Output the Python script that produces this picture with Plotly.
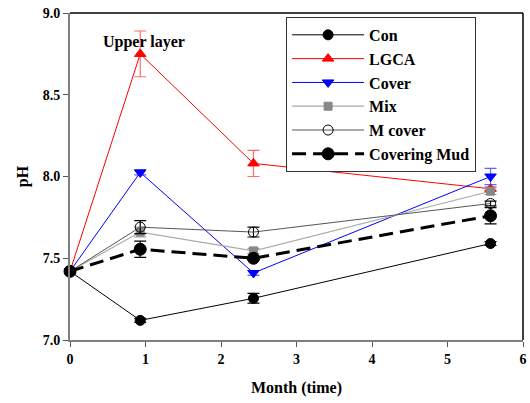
import plotly.graph_objects as go

months = [0, 0.93, 2.43, 5.57]
series_names = ["Con", "LGCA", "Cover", "Mix", "M cover", "Covering Mud"]
con = [7.42, 7.12, 7.255, 7.59]
con_err = [0, 0.012, 0.03, 0.012]
lgca = [7.42, 8.75, 8.08, 7.925]
lgca_err = [0, 0.14, 0.08, 0.012]
cover = [7.42, 8.025, 7.41, 8.0]
cover_err = [0, 0.015, 0.015, 0.05]
mix = [7.42, 7.66, 7.545, 7.91]
mix_err = [0, 0.03, 0.015, 0.02]
mcover = [7.42, 7.69, 7.66, 7.835]
mcover_err = [0, 0.04, 0.03, 0.015]
mud = [7.42, 7.555, 7.5, 7.76]
mud_err = [0, 0.05, 0.01, 0.05]

x_ticks = [0, 1, 2, 3, 4, 5, 6]
y_ticks = [7.0, 7.5, 8.0, 8.5, 9.0]

FONT = "Times New Roman"

styles = [
    dict(y=con, e=con_err, color="black", ecolor="black", symbol="circle", size=10, lw=1, dash="solid"),
    dict(y=lgca, e=lgca_err, color="red", ecolor="rgba(255,60,60,0.75)", symbol="triangle-up", size=10, lw=1, dash="solid"),
    dict(y=cover, e=cover_err, color="blue", ecolor="rgba(60,60,255,0.8)", symbol="triangle-down", size=10, lw=1, dash="solid"),
    dict(y=mix, e=mix_err, color="#999999", ecolor="#999999", symbol="square", size=8, lw=1.2, dash="solid"),
    dict(y=mcover, e=mcover_err, color="black", ecolor="black", symbol="circle-open", size=10, lw=1, dash="solid"),
    dict(y=mud, e=mud_err, color="black", ecolor="black", symbol="circle", size=12, lw=3, dash="14px,7px"),
]

fig = go.Figure()
for name, s in zip(series_names, styles):
    mcolor = s["color"]
    line_color = "#555555" if name == "M cover" else s["color"]
    if name == "Mix":
        line_color = "#aaaaaa"
        mcolor = "#888888"
    fig.add_trace(go.Scatter(
        x=months, y=s["y"], name=f"<b>{name}</b>", mode="lines+markers",
        line=dict(color=line_color, width=s["lw"], dash=s["dash"]),
        marker=dict(symbol=s["symbol"], size=s["size"], color=mcolor,
                    line=dict(color=mcolor, width=1)),
        error_y=dict(type="data", array=s["e"], visible=True,
                     color=s["ecolor"], thickness=1.2, width=6),
    ))

fig.add_annotation(x=0.98, y=8.82, xref="x", yref="y", text="<b>Upper layer</b>",
                   showarrow=False, font=dict(family=FONT, size=16, color="black"))

# top and right frame
fig.add_shape(type="line", xref="paper", yref="paper", x0=0, x1=1, y0=1, y1=1,
              line=dict(color="black", width=1.5))
fig.add_shape(type="line", xref="paper", yref="paper", x0=1, x1=1, y0=0, y1=1,
              line=dict(color="black", width=1.5))

fig.update_layout(
    width=530, height=403,
    margin=dict(l=70, r=3, t=13, b=63),
    paper_bgcolor="white", plot_bgcolor="white",
    font=dict(family=FONT, size=14, color="black"),
    showlegend=True,
    legend=dict(x=0.477, y=0.988, xanchor="left", yanchor="top",
                bgcolor="white", bordercolor="#333333", borderwidth=1,
                font=dict(family=FONT, size=16, color="black"),
                itemwidth=72, tracegroupgap=0,
                itemsizing="trace"),
    xaxis=dict(range=[0, 6], tickvals=x_ticks, ticktext=[f"<b>{v}</b>" for v in x_ticks],
               showgrid=False, zeroline=False, showline=True, linecolor="#808080", linewidth=2,
               ticks="outside", ticklen=5, tickcolor="#555555", tickwidth=1,
               ticklabeloverflow="allow",
               title=dict(text="<b>Month (time)</b>", font=dict(family=FONT, size=16), standoff=16),
               tickfont=dict(family=FONT, size=14)),
    yaxis=dict(range=[7.0, 9.0], tickvals=y_ticks, ticktext=[f"<b>{v:.1f}</b>" for v in y_ticks],
               showgrid=False, zeroline=False, showline=True, linecolor="#808080", linewidth=2,
               ticks="outside", ticklen=5, tickcolor="#555555", tickwidth=1,
               ticklabeloverflow="allow",
               title=dict(text="<b>pH</b>", font=dict(family=FONT, size=16), standoff=10),
               tickfont=dict(family=FONT, size=14)),
)
fig.update_traces(cliponaxis=False)

fig.write_html("out.html")
